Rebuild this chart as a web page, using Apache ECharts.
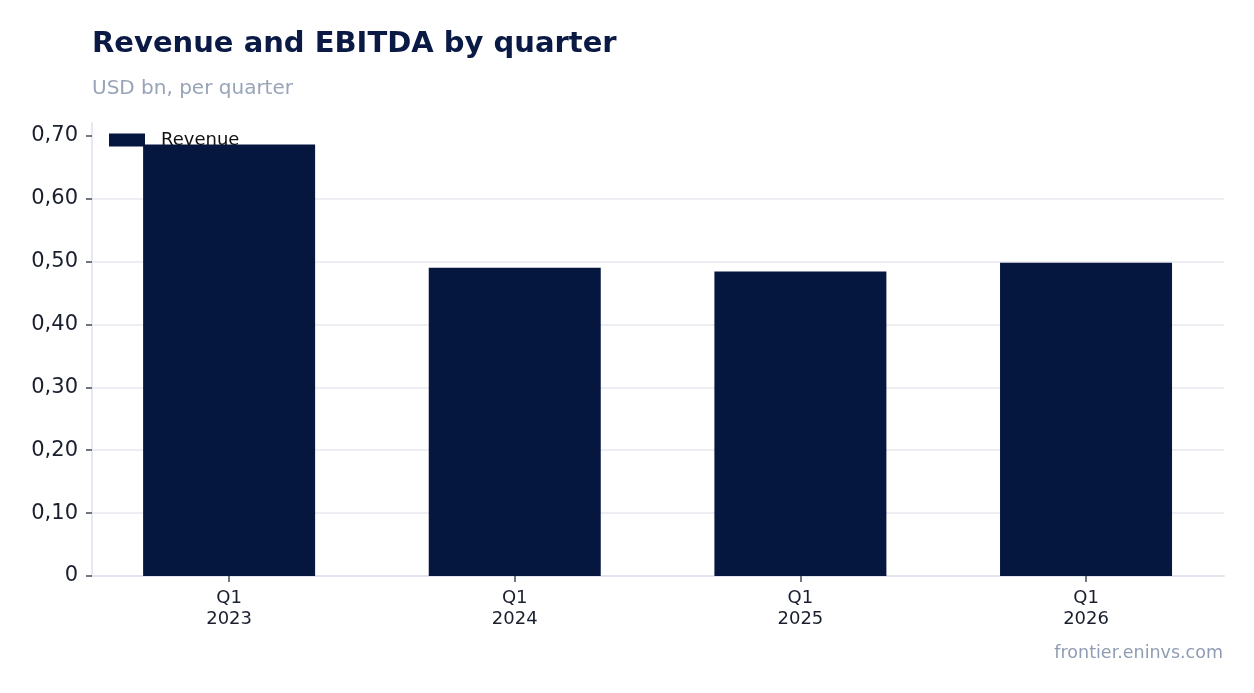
<!DOCTYPE html>
<html>
<head>
<meta charset="utf-8">
<script src="https://cdn.jsdelivr.net/npm/echarts@6/dist/echarts.min.js"></script>
<style>
  html, body { margin: 0; padding: 0; background: #fff; }
  #main { width: 1254px; height: 693px; }
</style>
</head>
<body>
<div id="main"></div>
<script>
// chart data
var quarters = ['Q1\n2023', 'Q1\n2024', 'Q1\n2025', 'Q1\n2026'];
var revenue = [0.686, 0.490, 0.484, 0.498];
var yTicks = [0, 0.1, 0.2, 0.3, 0.4, 0.5, 0.6, 0.7];
var xTicks = [0, 1, 2, 3];

var font = 'DejaVu Sans';
var chart = echarts.init(document.getElementById('main'));

function fmt(v) {
  if (v === 0) return '0';
  return v.toFixed(2).replace('.', ',');
}

chart.setOption({
  animation: false,
  textStyle: { fontFamily: font },
  title: [
    {
      text: 'Revenue and EBITDA by quarter',
      left: 87, top: 25,
      textStyle: { fontFamily: font, fontSize: 29, fontWeight: 'bold', color: '#0a1a45' }
    },
    {
      text: 'USD bn, per quarter',
      left: 87, top: 74,
      textStyle: { fontFamily: font, fontSize: 20, fontWeight: 'normal', color: '#98a4b8' }
    },
    {
      text: 'frontier.eninvs.com',
      right: 26, top: 639,
      textStyle: { fontFamily: font, fontSize: 17.5, fontWeight: 'normal', color: '#8f9cb3' }
    }
  ],
  legend: {
    data: ['Revenue'],
    left: 104, top: 126,
    itemWidth: 36, itemHeight: 13,
    icon: 'rect',
    textStyle: { fontFamily: font, fontSize: 18, color: '#111', padding: [3, 0, 0, 11] }
  },
  grid: { left: 92, right: 30, top: 123, bottom: 117 },
  xAxis: {
    type: 'value',
    min: -0.48, max: 3.483,
    axisLine: { show: true, onZero: false, lineStyle: { color: '#e1e5ed', width: 2 } },
    axisTick: { show: true, length: 6, customValues: xTicks, lineStyle: { color: '#444a58', width: 1.5 } },
    axisLabel: {
      fontFamily: font, fontSize: 18, color: '#1a1f2e', margin: 12, lineHeight: 21,
      customValues: xTicks,
      formatter: function (v) { return quarters[Math.round(v)]; }
    },
    splitLine: { show: false }
  },
  yAxis: {
    type: 'value',
    min: 0, max: 0.72,
    axisLine: { show: true, onZero: false, lineStyle: { color: '#e6e9f0', width: 2 } },
    axisTick: { show: true, length: 6, customValues: yTicks, lineStyle: { color: '#444a58', width: 1.5 } },
    axisLabel: {
      fontFamily: font, fontSize: 21, color: '#1a1f2e', margin: 14,
      padding: [4, 0, 0, 0],
      customValues: yTicks, formatter: fmt
    },
    splitLine: { show: true, showMaxLine: false, lineStyle: { color: '#e6e9f0', width: 1.5 } }
  },
  series: [{
    name: 'Revenue',
    type: 'bar',
    data: revenue.map(function (v, i) { return [i, v]; }),
    barWidth: 172,
    itemStyle: { color: '#05163f' }
  }]
});
</script>
</body>
</html>
